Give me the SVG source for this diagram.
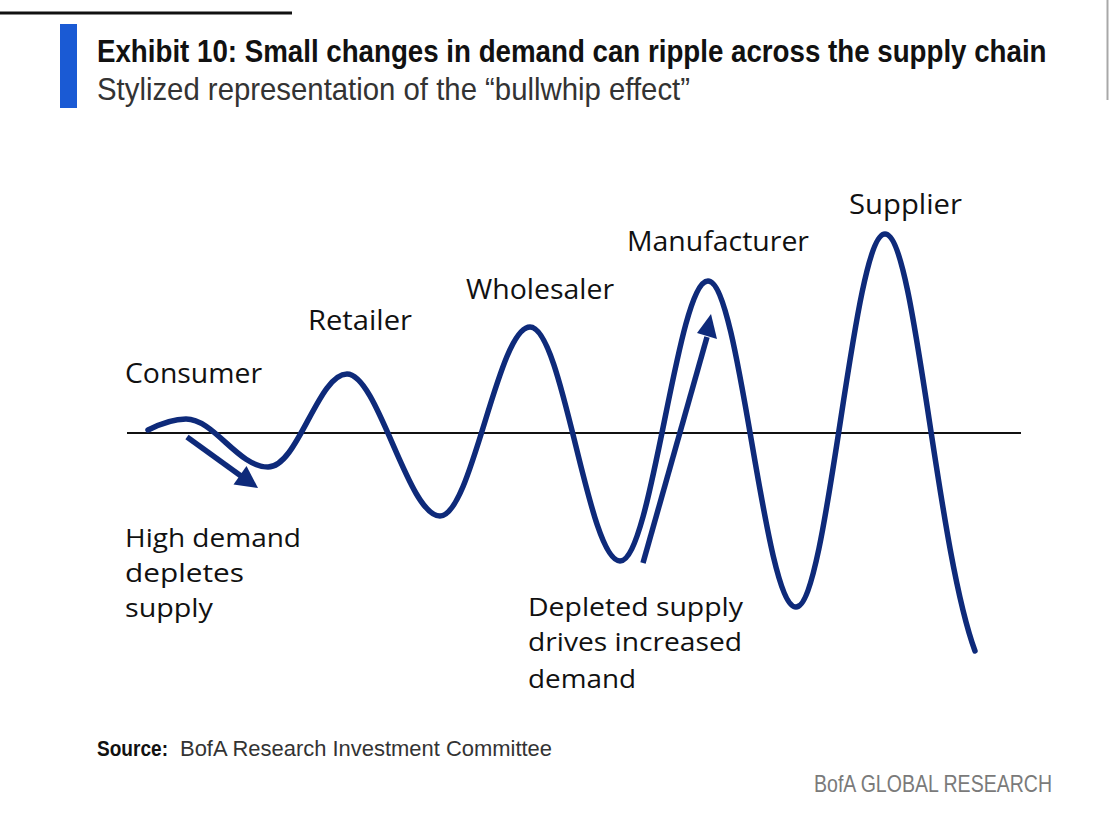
<svg xmlns="http://www.w3.org/2000/svg" width="1109" height="819" viewBox="0 0 1109 819">
  <style>
    .lbl { font-family: "Open Sans", "Liberation Sans", sans-serif; font-size: 28px; fill: #111; }
    .note { font-family: "Open Sans", "Liberation Sans", sans-serif; font-size: 26px; fill: #111; }
    .wave { fill: none; stroke: #0e2a7a; stroke-width: 5.5; stroke-linecap: round; stroke-linejoin: round; }
    .arr { fill: none; stroke: #0e2a7a; stroke-width: 5.5; }
    .head { fill: #0e2a7a; }
  </style>
  <rect width="1109" height="819" fill="#ffffff"/>

  <g id="header">
    <line x1="0" y1="13" x2="292" y2="13" stroke="#111" stroke-width="3"/>
    <rect x="60" y="24" width="17" height="84" fill="#1a5ad4"/>
    <line x1="1107.5" y1="0" x2="1107.5" y2="100" stroke="#a8a8a8" stroke-width="2"/>
    <g transform="translate(97,62) scale(0.88,1)">
      <text x="0" y="0" font-family="'Liberation Sans', Arial, sans-serif" font-weight="bold" font-size="31" fill="#111" textLength="1079" lengthAdjust="spacingAndGlyphs">Exhibit 10: Small changes in demand can ripple across the supply chain</text>
    </g>
    <text x="97" y="100" font-family="'Liberation Sans', Arial, sans-serif" font-size="32" fill="#333" textLength="593" lengthAdjust="spacingAndGlyphs">Stylized representation of the “bullwhip effect”</text>
  </g>

  <g id="axis">
    <line x1="127" y1="433" x2="1021" y2="433" stroke="#111" stroke-width="2"/>
  </g>

  <g id="connectors">
    <path class="wave" d="M148,430 C160,424 172,419 186,419 C214,419 238,467 268,467 C298,467 318,374 347,374 C378,374 408,516 440,516 C472,516 498,327 530,327 C563,327 588,561 620,561 C652,561 677,281 708,281 C740,281 764,607 796,607 C828,607 853,234 885,234 C915,234 936,545 975,651"/>
    <line class="arr" x1="187" y1="437" x2="241" y2="476"/>
    <polygon class="head" points="258,488 233.5,484.5 246.5,466"/>
    <line class="arr" x1="643" y1="563" x2="707" y2="337"/>
    <polygon class="head" points="711,314 717,339 697,333"/>
  </g>

  <g id="consumer"><text class="lbl" x="125" y="383" textLength="137" lengthAdjust="spacingAndGlyphs">Consumer</text></g>
  <g id="retailer"><text class="lbl" x="308" y="330" textLength="104" lengthAdjust="spacingAndGlyphs">Retailer</text></g>
  <g id="wholesaler"><text class="lbl" x="466" y="299" textLength="148" lengthAdjust="spacingAndGlyphs">Wholesaler</text></g>
  <g id="manufacturer"><text class="lbl" x="627" y="251" textLength="182" lengthAdjust="spacingAndGlyphs">Manufacturer</text></g>
  <g id="supplier"><text class="lbl" x="849" y="214" textLength="113" lengthAdjust="spacingAndGlyphs">Supplier</text></g>

  <g id="note-high-demand">
    <text class="note" x="125" y="547" textLength="176" lengthAdjust="spacingAndGlyphs">High demand</text>
    <text class="note" x="125" y="582" textLength="119" lengthAdjust="spacingAndGlyphs">depletes</text>
    <text class="note" x="125" y="617" textLength="88" lengthAdjust="spacingAndGlyphs">supply</text>
  </g>
  <g id="note-depleted-supply">
    <text class="note" x="528" y="616" textLength="215" lengthAdjust="spacingAndGlyphs">Depleted supply</text>
    <text class="note" x="528" y="651" textLength="214" lengthAdjust="spacingAndGlyphs">drives increased</text>
    <text class="note" x="528" y="688" textLength="108" lengthAdjust="spacingAndGlyphs">demand</text>
  </g>

  <g id="footer">
    <text x="97" y="756" font-family="'Liberation Sans', Arial, sans-serif" font-weight="bold" font-size="22" fill="#111" textLength="71" lengthAdjust="spacingAndGlyphs">Source:</text>
    <text x="180" y="756" font-family="'Liberation Sans', Arial, sans-serif" font-size="22" fill="#333" textLength="372" lengthAdjust="spacingAndGlyphs">BofA Research Investment Committee</text>
    <text x="814" y="792" font-family="'Liberation Sans', Arial, sans-serif" font-size="24" fill="#7a7a7a" textLength="238" lengthAdjust="spacingAndGlyphs">BofA GLOBAL RESEARCH</text>
  </g>
</svg>
